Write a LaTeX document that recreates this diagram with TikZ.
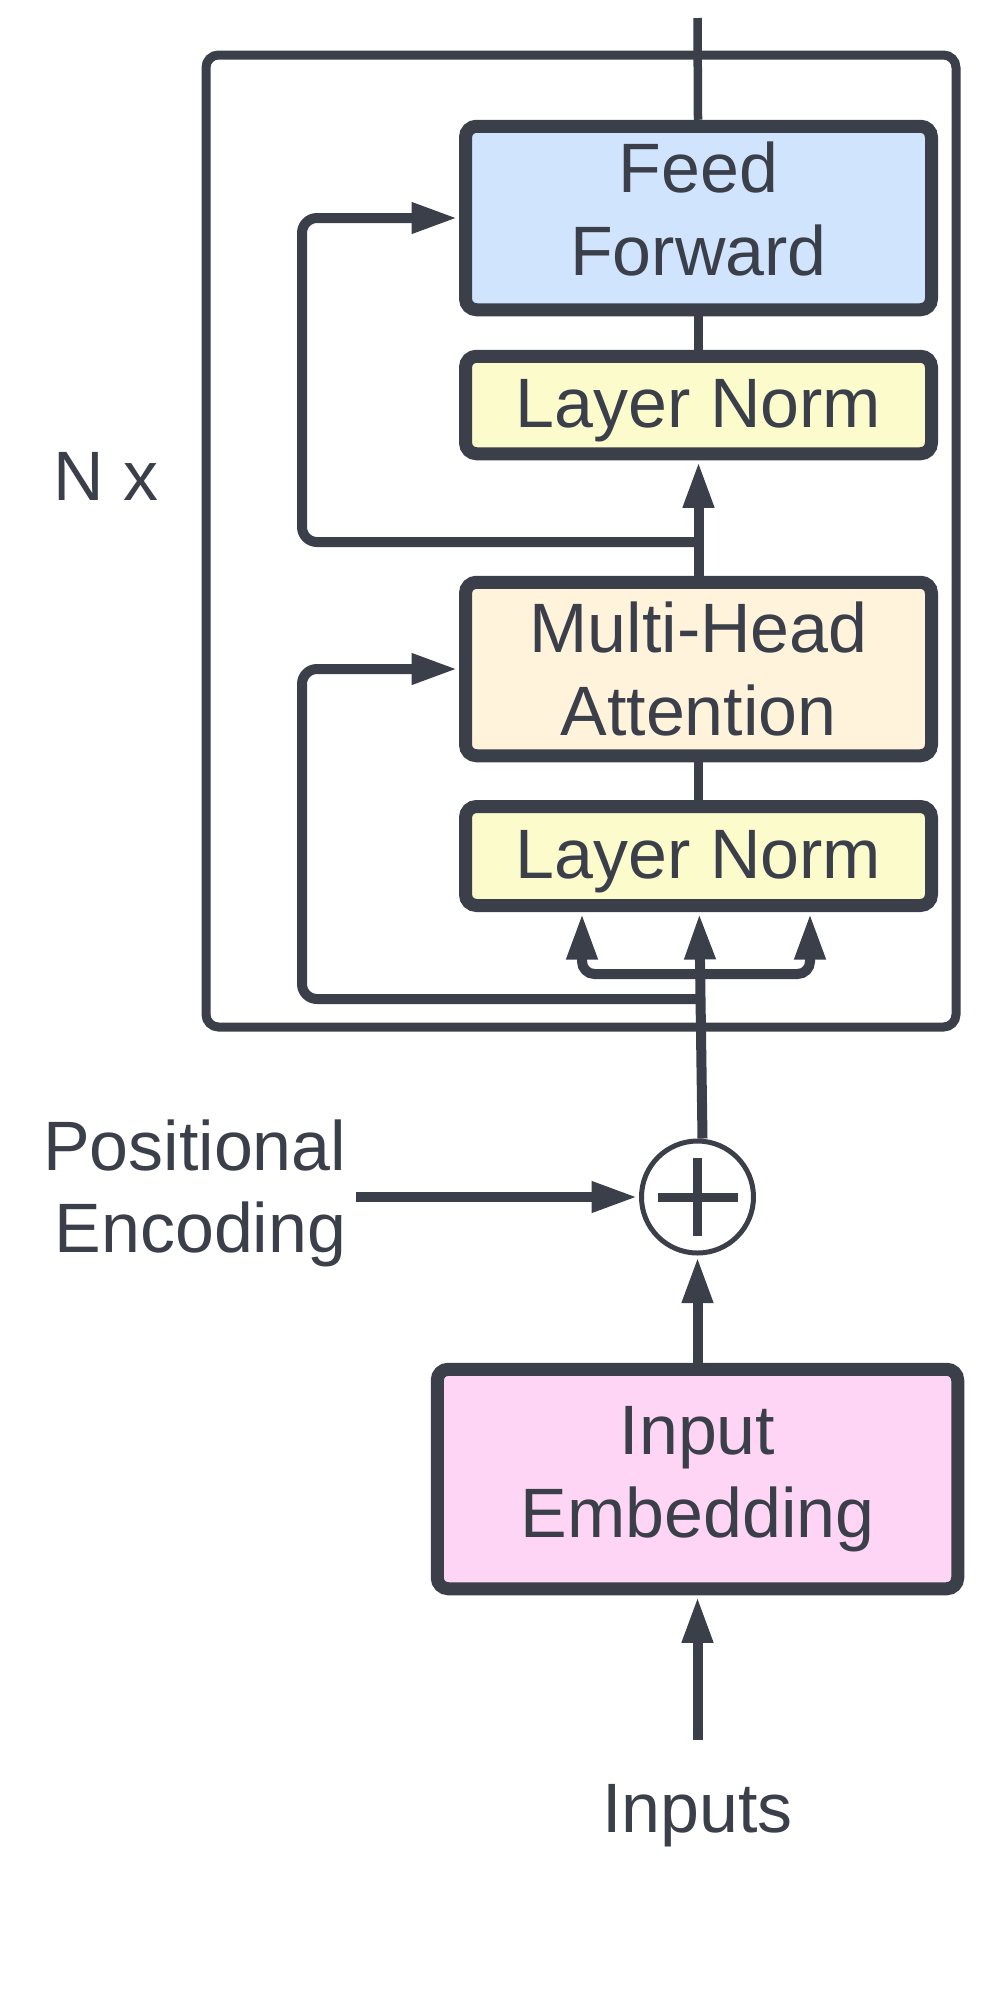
\documentclass[tikz,border=0pt]{standalone}
\usepackage{fontspec}
\setmainfont{Liberation Sans}
\usetikzlibrary{arrows.meta}
\definecolor{ink}{HTML}{3A3F4A}
\definecolor{ffblue}{HTML}{D0E4FE}
\definecolor{lnyellow}{HTML}{FBFBCC}
\definecolor{mhaorange}{HTML}{FFF3DC}
\definecolor{embpink}{HTML}{FED5F5}
\begin{document}
\begin{tikzpicture}[color=ink,text=ink,font=\fontsize{39.8}{47}\selectfont,>={Triangle[length=0.92cm,width=0.58cm]}]
\tikzstyle{block}=[draw,line width=0.26cm,rounded corners=0.22cm,minimum width=9.32cm,inner sep=0pt,align=center]
\tikzstyle{arr}=[->,line width=0.2cm,shorten >=0.03cm]
\tikzstyle{link}=[line width=0.17cm]
\tikzstyle{loop}=[arr,rounded corners=0.3cm]
\useasboundingbox (0,0) rectangle (20.06,-39.94);
\node[draw,line width=0.18cm,rounded corners=0.25cm,minimum width=15cm,minimum height=19.44cm] (layer) at (11.62,-10.82) {};
\node (nx) at (2.12,-9.52) {N x};
\node[block,fill=ffblue,minimum height=3.67cm,text height=76pt,text depth=11pt] (ff) at (13.97,-4.36) {Feed\\Forward};
\node[block,fill=lnyellow,minimum height=1.95cm,text height=28.6pt,text depth=2.9pt] (ln1) at (13.97,-8.1) {Layer Norm};
\node[block,fill=mhaorange,minimum height=3.47cm] (mha) at (13.97,-13.38) {Multi-Head\\Attention};
\node[block,fill=lnyellow,minimum height=1.98cm,text height=28.6pt,text depth=2.9pt] (ln2) at (13.97,-17.12) {Layer Norm};
\node[circle,draw,line width=0.1cm,minimum size=2.24cm] (plus) at (13.95,-23.94) {};
\node[align=right,anchor=east] (pos) at (7.05,-23.87) {Positional\\Encoding};
\node[block,fill=embpink,minimum width=10.41cm,minimum height=4.39cm] (emb) at (13.95,-29.58) {Input\\Embedding};
\node (inp) at (13.95,-36.32) {Inputs};
\coordinate (top) at (13.95,-0.36);
\coordinate (r1) at (6.04,-10.84);
\coordinate (r2) at (6.04,-19.98);
\coordinate (bl) at (11.64,-19.48);
\coordinate (br) at (16.2,-19.48);
\coordinate (pe) at (7.12,-23.94);
\coordinate (in) at (13.95,-34.8);
\draw[link] (ff) -- (top);
\draw[link] (ln1) -- (ff);
\draw[arr] (mha) -- (ln1);
\draw[link] (ln2) -- (mha);
\draw[arr] ([xshift=0.1cm]plus.north) -- (ln2);
\draw[loop] (r1 -| ff) -- (r1) |- (ff.west);
\draw[loop] (r2 -| mha) -- (r2) |- (mha.west);
\draw[loop,<->,rounded corners=0.25cm,shorten <=0.03cm] (ln2.south -| bl) -- (bl) -- (br) -- (ln2.south -| br);
\draw[line width=0.18cm] (plus.center) ++(-0.8,0) -- ++(1.6,0) (plus.center) ++(0,-0.78) -- ++(0,1.56);
\draw[arr] (pe) -- (plus);
\draw[arr] (emb) -- (plus);
\draw[arr] (in) -- (emb);
\end{tikzpicture}
\end{document}
